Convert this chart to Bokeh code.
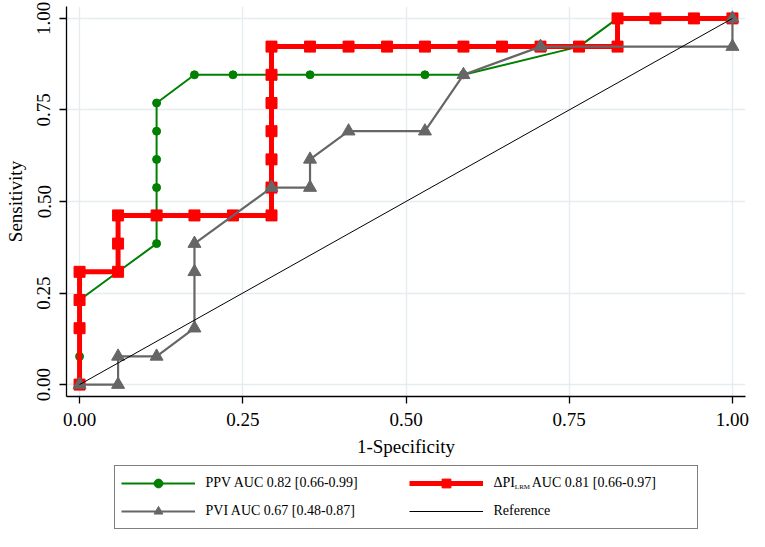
from bokeh.plotting import figure
from bokeh.layouts import column
from bokeh.models import Legend, LegendItem, Label, FixedTicker, Range1d
from bokeh.embed import file_html
from bokeh.resources import INLINE

# ---- data ----
ppv_x = [0.0, 0.0, 0.0, 0.059, 0.118, 0.118, 0.118, 0.118, 0.118, 0.118, 0.176, 0.235, 0.353, 0.529, 0.588, 0.765, 0.824, 1.0]
ppv_y = [0.0, 0.077, 0.231, 0.308, 0.385, 0.462, 0.538, 0.615, 0.692, 0.769, 0.846, 0.846, 0.846, 0.846, 0.846, 0.923, 1.0, 1.0]

dpi_x = [0.0, 0.0, 0.0, 0.0, 0.059, 0.059, 0.059, 0.118, 0.176, 0.235, 0.294, 0.294, 0.294, 0.294, 0.294, 0.294, 0.294,
         0.353, 0.412, 0.471, 0.529, 0.588, 0.647, 0.706, 0.765, 0.824, 0.824, 0.882, 0.941, 1.0]
dpi_y = [0.0, 0.154, 0.231, 0.308, 0.308, 0.385, 0.462, 0.462, 0.462, 0.462, 0.462, 0.538, 0.615, 0.692, 0.769, 0.846, 0.923,
         0.923, 0.923, 0.923, 0.923, 0.923, 0.923, 0.923, 0.923, 0.923, 1.0, 1.0, 1.0, 1.0]

pvi_x = [0.0, 0.059, 0.059, 0.118, 0.176, 0.176, 0.176, 0.294, 0.353, 0.353, 0.412, 0.529, 0.588, 0.706, 1.0, 1.0]
pvi_y = [0.0, 0.0, 0.077, 0.077, 0.154, 0.308, 0.385, 0.538, 0.538, 0.615, 0.692, 0.692, 0.846, 0.923, 0.923, 1.0]

ref_x = [0.0, 1.0]
ref_y = [0.0, 1.0]

ticks = [0.0, 0.25, 0.5, 0.75, 1.0]
tick_labels = ["0.00", "0.25", "0.50", "0.75", "1.00"]

legend_labels = [
    "PPV AUC 0.82 [0.66-0.99]",
    "PVI AUC 0.67 [0.48-0.87]",
    "\u0394PI\u2002\u2002\u2009AUC 0.81 [0.66-0.97]",
    "Reference",
]
subscript_text = "LRM"

FONT = "Liberation Serif"
GREEN = "#008000"
RED = "#ff0000"
GREY = "#666666"
NAN = float("nan")

STYLES = {
    "ppv": dict(color=GREEN, lw=2, marker="circle", size=8),
    "dpi": dict(color=RED, lw=5, marker="square", size=11),
    "pvi": dict(color=GREY, lw=2.2, marker="triangle", size=13),
}

# ---------------- main plot ----------------
p = figure(width=749, height=462,
           x_range=Range1d(-0.02, 1.02), y_range=Range1d(-0.0325, 1.0325),
           output_backend="svg", toolbar_location=None,
           min_border_left=66, min_border_right=4, min_border_top=6, min_border_bottom=66)
p.outline_line_color = None
p.background_fill_color = "white"
p.border_fill_color = "white"

for ax in (p.xaxis[0], p.yaxis[0]):
    ax.ticker = FixedTicker(ticks=ticks)
    ax.major_label_overrides = {t: s for t, s in zip(ticks, tick_labels)}
    ax.major_label_text_font = FONT
    ax.major_label_text_font_size = "19px"
    ax.major_label_text_color = "black"
    ax.axis_label_text_font = FONT
    ax.axis_label_text_font_size = "19px"
    ax.axis_label_text_font_style = "normal"
    ax.axis_label_text_color = "black"
    ax.axis_line_color = "black"
    ax.axis_line_width = 1.3
    ax.major_tick_line_color = "black"
    ax.major_tick_line_width = 1.3
    ax.major_tick_out = 7
    ax.major_tick_in = 0
    ax.minor_tick_line_color = None
    ax.major_label_standoff = 9

p.xaxis.axis_label = "1-Specificity"
p.yaxis.axis_label = "Sensitivity"
p.yaxis.major_label_orientation = "vertical"
p.xaxis.axis_label_standoff = 7
p.yaxis.axis_label_standoff = 9

p.grid.grid_line_color = "#e5edf0"
p.grid.grid_line_width = 1.5

s = STYLES["ppv"]
p.line(ppv_x, ppv_y, line_color=s["color"], line_width=s["lw"])
p.scatter(ppv_x, ppv_y, marker=s["marker"], size=s["size"], fill_color=s["color"], line_color=s["color"])
s = STYLES["dpi"]
p.line(dpi_x, dpi_y, line_color=s["color"], line_width=s["lw"])
p.scatter(dpi_x, dpi_y, marker=s["marker"], size=s["size"], fill_color=s["color"], line_color=s["color"])
s = STYLES["pvi"]
p.line(pvi_x, pvi_y, line_color=s["color"], line_width=s["lw"])
p.scatter(pvi_x, pvi_y, marker=s["marker"], size=s["size"], fill_color=s["color"], line_color=s["color"])
p.line(ref_x, ref_y, line_color="black", line_width=1)

# ---------------- legend panel ----------------
LH = 69
q = figure(width=749, height=LH, x_range=Range1d(66, 749), y_range=Range1d(0, LH),
           output_backend="svg", toolbar_location=None,
           x_axis_location=None, y_axis_location=None,
           min_border_left=66, min_border_right=0, min_border_top=0, min_border_bottom=0)
q.outline_line_color = None
q.grid.visible = False
q.background_fill_color = "white"
q.border_fill_color = "white"

def sample(key):
    st = STYLES[key]
    ln = q.line([NAN], [NAN], line_color=st["color"], line_width=st["lw"])
    mk = q.scatter([NAN], [NAN], marker=st["marker"], size=st["size"],
                   fill_color=st["color"], line_color=st["color"])
    return [ln, mk]

ppv_r = sample("ppv")
pvi_r = sample("pvi")
dpi_r = sample("dpi")
ref_r = [q.line([NAN], [NAN], line_color="black", line_width=1)]

legend = Legend(items=[
    LegendItem(label=legend_labels[0], renderers=ppv_r),
    LegendItem(label=legend_labels[1], renderers=pvi_r),
    LegendItem(label=legend_labels[2], renderers=dpi_r),
    LegendItem(label=legend_labels[3], renderers=ref_r),
], ncols=2, location="center")
legend.label_text_font = FONT
legend.label_text_font_size = "14px"
legend.label_text_color = "black"
legend.glyph_width = 74
legend.glyph_height = 22
legend.label_standoff = 11
legend.label_width = 197
legend.label_height = 22
legend.padding = 6
legend.spacing = 6
legend.margin = 0
legend.border_line_color = "black"
legend.border_line_width = 1.2
legend.background_fill_alpha = 0.0
q.add_layout(legend, "center")

sub = Label(x=517, y=45, text=subscript_text, text_font=FONT,
            text_font_size="7px", text_color="black", text_baseline="alphabetic")
q.add_layout(sub, "center")

layout = column(p, q, spacing=0)
open("out.html", "w").write(file_html(layout, INLINE))
